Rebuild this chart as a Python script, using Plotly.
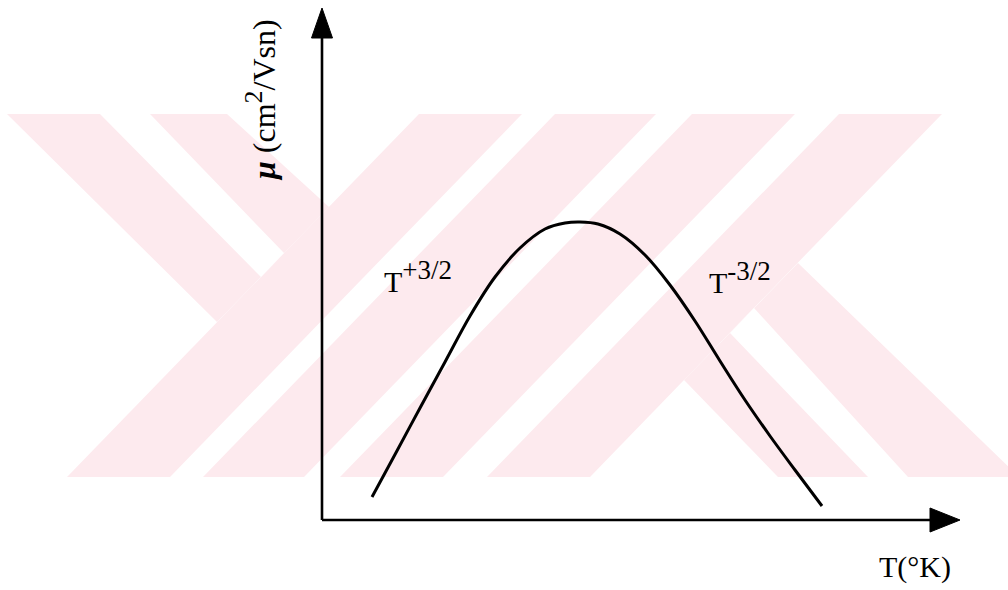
import plotly.graph_objects as go

# ---------------- data (arbitrary units) ----------------
T_VALUES = [0.50, 0.73, 0.98, 1.23, 1.48, 1.73, 1.98, 2.23, 2.43, 2.58, 2.76,
            2.98, 3.23, 3.48, 3.73, 3.98, 4.23, 4.48, 4.73, 5.00]
MU_VALUES = [0.23, 0.655, 1.12, 1.58, 2.04, 2.43, 2.72, 2.91, 2.97, 2.98, 2.96,
             2.86, 2.65, 2.35, 1.99, 1.59, 1.20, 0.84, 0.50, 0.14]

Y_TITLE = "<b><i>μ</i></b> (cm<sup><span style='font-size:26px'>2</span></sup>/Vsn)"
X_TITLE = "T(°K)"
REGION_LABELS = ["T<sup><span style='font-size:27px'>+3/2</span></sup>",
                 "T<sup><span style='font-size:27px'>-3/2</span></sup>"]

# ---------------- layout constants ----------------
W, H = 1008, 590
OX, OY = 322, 520          # pixel position of the axes origin
PX = 100.0                 # pixels per unit
AXIS_X_END = 6.38          # arrow tip of T axis
AXIS_Y_END = 5.12          # arrow tip of mu axis
HEAD_LEN = 0.30
HEAD_HALF_X = 0.12
HEAD_HALF_Y = 0.105
FONT = "Liberation Serif"
PINK = "#fdeaee"


def d(px, py):
    return (px - OX) / PX, (OY - py) / PX


def path(points):
    pts = [d(*p) for p in points]
    return "M" + " L".join(f"{x:.4f},{y:.4f}" for x, y in pts) + " Z"


# watermark (background decoration) polygons in pixel coordinates
WM_PINK = [
    [(67, 477), (304, 477), (656, 114), (419, 114)],                 # band B
    [(340, 477), (590, 477), (942, 114), (692, 114)],                # band C
    [(7, 114), (227, 114), (329, 207), (217, 322)],                  # band A
    [(798, 263), (684, 380), (778, 477), (1019, 477)],               # band E
]
WM_WHITE = [
    [(170, 477), (203, 477), (555, 114), (522, 114)],
    [(443, 477), (487, 477), (839, 114), (795, 114)],
    [(100, 114), (150, 114), (284, 253), (261, 277)],
    [(730, 333), (754, 308), (908, 477), (868, 477)],
]

shapes = []
for poly in WM_PINK:
    shapes.append(dict(type="path", path=path(poly), xref="x", yref="y",
                       fillcolor=PINK, line=dict(width=0), layer="below"))
for poly in WM_WHITE:
    shapes.append(dict(type="path", path=path(poly), xref="x", yref="y",
                       fillcolor="white", line=dict(width=0), layer="below"))

fig = go.Figure()

# axes lines
fig.add_trace(go.Scatter(x=[0, 0], y=[AXIS_Y_END - HEAD_LEN + 0.02, 0],
                         mode="lines", line=dict(color="black", width=2.6),
                         hoverinfo="skip", showlegend=False))
fig.add_trace(go.Scatter(x=[0, AXIS_X_END - HEAD_LEN + 0.02], y=[0, 0],
                         mode="lines", line=dict(color="black", width=2.6),
                         hoverinfo="skip", showlegend=False))
# arrow heads
fig.add_trace(go.Scatter(
    x=[0, -HEAD_HALF_Y, HEAD_HALF_Y, 0],
    y=[AXIS_Y_END, AXIS_Y_END - HEAD_LEN, AXIS_Y_END - HEAD_LEN, AXIS_Y_END],
    mode="lines", fill="toself", fillcolor="black", line=dict(color="black", width=1),
    hoverinfo="skip", showlegend=False))
fig.add_trace(go.Scatter(
    x=[AXIS_X_END, AXIS_X_END - HEAD_LEN, AXIS_X_END - HEAD_LEN, AXIS_X_END],
    y=[0, HEAD_HALF_X, -HEAD_HALF_X, 0],
    mode="lines", fill="toself", fillcolor="black", line=dict(color="black", width=1),
    hoverinfo="skip", showlegend=False))

# mobility curve
fig.add_trace(go.Scatter(x=T_VALUES, y=MU_VALUES, mode="lines",
                         line=dict(color="black", width=3, shape="spline", smoothing=1.0),
                         hoverinfo="skip", showlegend=False))

annotations = []
bx, by = d(260, 100)
annotations.append(dict(x=bx, y=by, xref="x", yref="y", text=Y_TITLE, textangle=-90,
                        showarrow=False, xanchor="center", yanchor="middle",
                        font=dict(family=FONT, size=32, color="black"),
                        borderpad=0, borderwidth=0))
tx, ty = d(879, 577 + 6.5)
annotations.append(dict(x=tx, y=ty, xref="x", yref="y", text=X_TITLE, showarrow=False,
                        xanchor="left", yanchor="bottom",
                        font=dict(family=FONT, size=30, color="black"),
                        borderpad=0, borderwidth=0))
for (lx, lbase), txt in zip([(384, 291), (709, 292)], REGION_LABELS):
    ax_, ay_ = d(lx, lbase + 6.5)
    annotations.append(dict(x=ax_, y=ay_, xref="x", yref="y", text=txt, showarrow=False,
                            xanchor="left", yanchor="bottom",
                            font=dict(family=FONT, size=30, color="black"),
                            borderpad=0, borderwidth=0))

x0, _ = d(0, 0)
x1, _ = d(W, 0)
_, y0 = d(0, H)
_, y1 = d(0, 0)
fig.update_layout(
    width=W, height=H, autosize=False,
    margin=dict(l=0, r=0, t=0, b=0, pad=0),
    paper_bgcolor="white", plot_bgcolor="white",
    xaxis=dict(range=[x0, x1], visible=False, fixedrange=True),
    yaxis=dict(range=[y0, y1], visible=False, fixedrange=True),
    shapes=shapes, annotations=annotations, showlegend=False,
)

fig.write_html("out.html", config={"displayModeBar": False},
               post_script="document.body.style.margin='0px';")
